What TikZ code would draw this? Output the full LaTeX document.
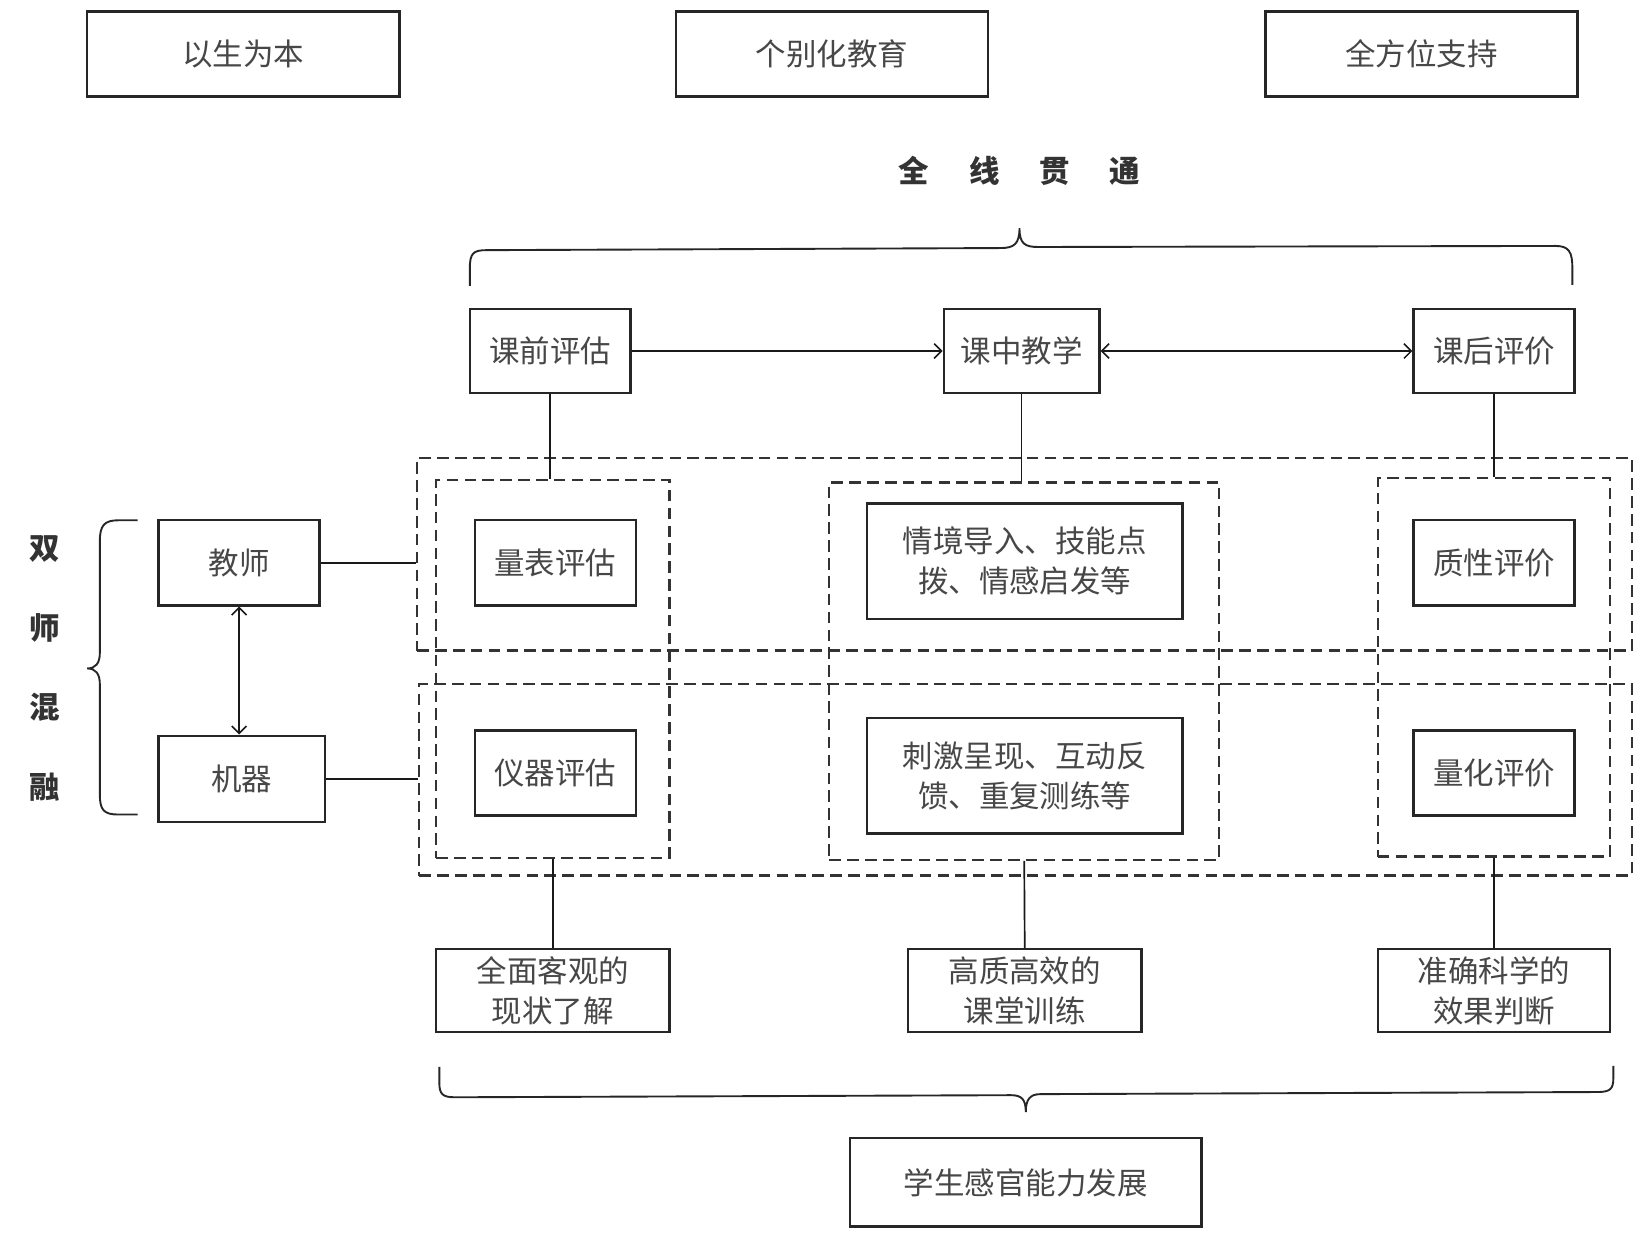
\documentclass[tikz,border=0pt]{standalone}
\usepackage{fontspec}
\setmainfont{Noto Sans CJK SC}
\usetikzlibrary{arrows.meta}
\newcommand\myfs{\fontsize{29}{38}\selectfont}
\begin{document}
\begin{tikzpicture}[x=1pt,y=-1pt,
  box/.style={draw=black!85, line width=2.3pt, inner sep=0pt, text=black!72, font=\myfs, align=center},
  dbox/.style={draw=black!80, line width=2.1pt, dash pattern=on 11pt off 6pt, inner sep=0pt},
  conn/.style={draw=black!90, line width=1.6pt},
  tip/.style={-{Straight Barb[length=7pt,width=14pt,line width=1.5pt]}},
  tips/.style={{Straight Barb[length=7pt,width=14pt,line width=1.5pt]}-{Straight Barb[length=7pt,width=14pt,line width=1.5pt]}},
  brc/.style={draw=black!85, line width=1.8pt}]
\useasboundingbox (0,0) rectangle (1568,1186);
\fill[white] (0,0) rectangle (1568,1186);
% top boxes
\node[box, minimum width=297pt, minimum height=81pt] (t1) at (231.5,51.5) {以生为本};
\node[box, minimum width=297pt, minimum height=81pt] (t2) at (791.5,51.5) {个别化教育};
\node[box, minimum width=297pt, minimum height=81pt] (t3) at (1352.5,51.5) {全方位支持};
% title
\node[font=\myfs\bfseries, text=black!80] (ttl) at (970,163) {全\hspace{38pt}线\hspace{38pt}贯\hspace{38pt}通};
% top brace
\draw[brc] (447,272) -- (447,256) .. controls (447,241) and (450,238) .. (463,238) -- (952,236) .. controls (965,236) and (970,232) .. (970,217) .. controls (970,232) and (975,235) .. (988,235) -- (1480,234) .. controls (1493,234) and (1496,240) .. (1496,255) -- (1496,271);
% phase boxes
\node[box, minimum width=153pt, minimum height=80pt] (kq) at (523.5,334) {课前评估};
\node[box, minimum width=148pt, minimum height=80pt] (kz) at (972,334) {课中教学};
\node[box, minimum width=153pt, minimum height=80pt] (kh) at (1421.5,334) {课后评价};
% dashed rows and columns
\node[dbox, minimum width=1156pt, minimum height=183pt] (r1) at (975,527.5) {};
\node[dbox, minimum width=1154pt, minimum height=182pt] (r2) at (976,742) {};
\node[dbox, minimum width=222pt, minimum height=359pt] (c1) at (526,636.5) {};
\node[dbox, minimum width=371pt, minimum height=359pt] (c2) at (974.5,638.5) {};
\node[dbox, minimum width=221pt, minimum height=360pt] (c3) at (1421.5,635) {};
% inner boxes
\node[box, minimum width=153pt, minimum height=81pt] (a1) at (528.5,535.5) {量表评估};
\node[box, minimum width=153pt, minimum height=81pt] (a2) at (528.5,735.5) {仪器评估};
\node[box, minimum width=300pt, minimum height=110pt] (m1) at (975,534) {情境导入、技能点\\拨、情感启发等};
\node[box, minimum width=300pt, minimum height=110pt] (m2) at (975,738) {刺激呈现、互动反\\馈、重复测练等};
\node[box, minimum width=153pt, minimum height=81pt] (p1) at (1421.5,535.5) {质性评价};
\node[box, minimum width=153pt, minimum height=81pt] (p2) at (1421.5,735.5) {量化评价};
% left side
\node[box, minimum width=153pt, minimum height=81pt] (js) at (227.5,535.5) {教师};
\node[box, minimum width=158pt, minimum height=82pt] (jq) at (230,741) {机器};
\node[font=\fontsize{29}{76}\selectfont\bfseries, text=black!80, align=center] (dsh) at (43,636) {双\\师\\混\\融};
\draw[brc] (131,495) -- (113,495) .. controls (99,495) and (95,500) .. (95,515) -- (95,621) .. controls (95,631) and (91,636) .. (83,636) .. controls (91,636) and (95,641) .. (95,651) -- (95,756) .. controls (95,771) and (99,775) .. (113,775) -- (131,775);
% bottom boxes
\node[box, minimum width=222pt, minimum height=79pt] (b1) at (526,942.5) {全面客观的\\现状了解};
\node[box, minimum width=222pt, minimum height=79pt] (b2) at (975,942.5) {高质高效的\\课堂训练};
\node[box, minimum width=221pt, minimum height=79pt] (b3) at (1421.5,942.5) {准确科学的\\效果判断};
% bottom brace
\draw[brc] (418,1015) -- (418,1030) .. controls (418,1041) and (421,1044) .. (433,1044) -- (962,1042) .. controls (972,1042) and (976,1046) .. (976,1058) .. controls (976,1046) and (980,1041) .. (990,1041) -- (1520,1039) .. controls (1532,1039) and (1535,1036) .. (1535,1026) -- (1535,1014);
\node[box, minimum width=334pt, minimum height=84pt] (fin) at (976,1125) {学生感官能力发展};
% connectors
\draw[conn, tip] (kq.east) -- (kz.west);
\draw[conn, tips] (kz.east) -- (kh.west);
\draw[conn] (kq.south) -- (kq.south |- c1.north);
\draw[conn] (kz.south) -- (kz.south |- c2.north);
\draw[conn] (kh.south) -- (kh.south |- c3.north);
\draw[conn] (js.east) -- (js.east -| r1.west);
\draw[conn] (jq.east) -- (jq.east -| r2.west);
\draw[conn, tips] (js.south) -- (js.south |- jq.north);
\draw[conn] (c1.south) -- (b1.north);
\draw[conn] (c2.south) -- (b2.north);
\draw[conn] (c3.south) -- (b3.north);
\end{tikzpicture}
\end{document}
